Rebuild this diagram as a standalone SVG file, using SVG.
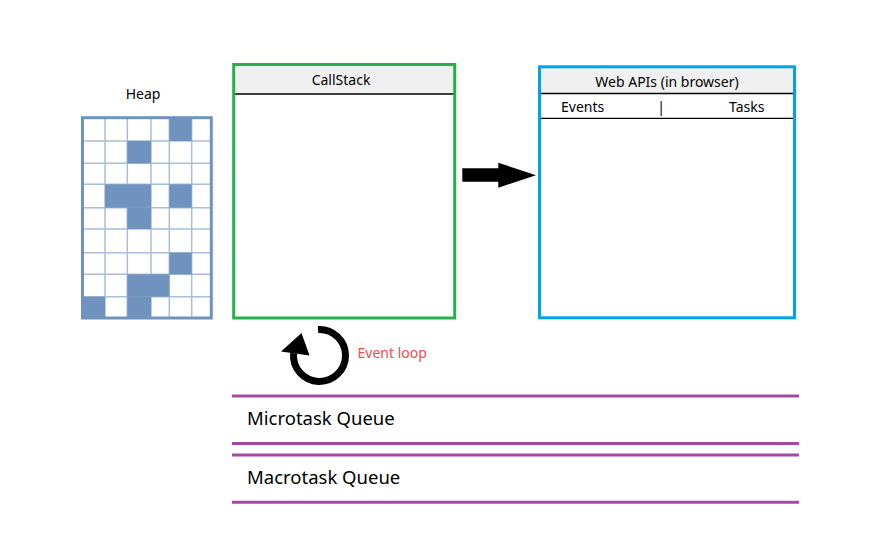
<svg xmlns="http://www.w3.org/2000/svg" width="892" height="541" viewBox="0 0 892 541">
<style>
text{font-family:"Segoe UI","Noto Sans","Open Sans",sans-serif;fill:#000}
.lbl{font-size:14px}
.big{font-size:18.5px}
.cell{fill:#7092BE}
.grid{stroke:#7092BE;stroke-opacity:0.6;stroke-width:1.5;fill:none}
.qline{stroke:#A349A4;stroke-width:3}
.hdr{fill:#F0F0F0}
.sep{stroke:#000;stroke-width:1.3}
</style>
<rect x="0" y="0" width="892" height="541" fill="#fff"/>

<g id="heap">
<text class="lbl" x="143" y="99" text-anchor="middle">Heap</text>
<rect x="82.5" y="117.7" width="128.8" height="200.3" fill="#fff"/>
<path class="grid" d="M105 117.7V318M127.3 117.7V318M151 117.7V318M169.3 117.7V318M191.7 117.7V318M82.5 141H211.3M82.5 163.3H211.3M82.5 184.3H211.3M82.5 207.7H211.3M82.5 229H211.3M82.5 252.7H211.3M82.5 274.3H211.3M82.5 296.7H211.3"/>
<rect class="cell" x="169.3" y="117.7" width="22.4" height="23.3"/>
<rect class="cell" x="127.3" y="141" width="23.7" height="22.3"/>
<rect class="cell" x="105" y="184.3" width="46" height="23.4"/>
<rect class="cell" x="169.3" y="184.3" width="22.4" height="23.4"/>
<rect class="cell" x="127.3" y="207.7" width="23.7" height="21.3"/>
<rect class="cell" x="169.3" y="252.7" width="22.4" height="21.6"/>
<rect class="cell" x="127.3" y="274.3" width="42" height="22.4"/>
<rect class="cell" x="82.5" y="296.7" width="22.5" height="21.3"/>
<rect class="cell" x="127.3" y="296.7" width="23.7" height="21.3"/>
<rect x="82.5" y="117.7" width="128.8" height="200.3" fill="none" stroke="#7092BE" stroke-width="3"/>
</g>

<g id="callstack">
<rect class="hdr" x="233.7" y="64.5" width="221" height="29.5"/>
<line class="sep" x1="233.7" y1="94" x2="454.7" y2="94"/>
<text class="lbl" x="341" y="85" text-anchor="middle">CallStack</text>
<rect x="233.7" y="64.5" width="221" height="253.5" fill="none" stroke="#22B14C" stroke-width="3"/>
</g>

<g id="webapis">
<rect class="hdr" x="539.5" y="66.8" width="255" height="26.7"/>
<line class="sep" x1="539.5" y1="93.5" x2="794.5" y2="93.5"/>
<line class="sep" x1="539.5" y1="118.3" x2="794.5" y2="118.3"/>
<text class="lbl" x="667" y="86.7" text-anchor="middle">Web APIs (in browser)</text>
<text class="lbl" x="561" y="111.7">Events</text>
<text class="lbl" x="661" y="111.7" text-anchor="middle">|</text>
<text class="lbl" x="764.5" y="111.7" text-anchor="end">Tasks</text>
<rect x="539.5" y="66.8" width="255" height="251" fill="none" stroke="#00A2E8" stroke-width="3"/>
</g>

<g id="event-loop">
<path d="M318 329.5A26 26 0 1 1 293.6 353.2" fill="none" stroke="#000" stroke-width="7"/>
<polygon points="281,351.5 301.5,333 309.5,355.5" fill="#000"/>
<text class="lbl" x="357.5" y="358" style="fill:#F24A4A">Event loop</text>
</g>

<g id="microtask-queue">
<line class="qline" x1="232" y1="396" x2="799" y2="396"/>
<text class="big" x="247" y="425">Microtask Queue</text>
<line class="qline" x1="232" y1="443.5" x2="799" y2="443.5"/>
</g>

<g id="macrotask-queue">
<line class="qline" x1="232" y1="455" x2="799" y2="455"/>
<text class="big" x="247" y="484">Macrotask Queue</text>
<line class="qline" x1="232" y1="502.3" x2="799" y2="502.3"/>
</g>

<g id="connectors">
<polygon points="462.3,168.3 498.3,168.3 498.3,162.7 536,175.2 498.3,187.7 498.3,181.7 462.3,181.7" fill="#000"/>
</g>
</svg>
